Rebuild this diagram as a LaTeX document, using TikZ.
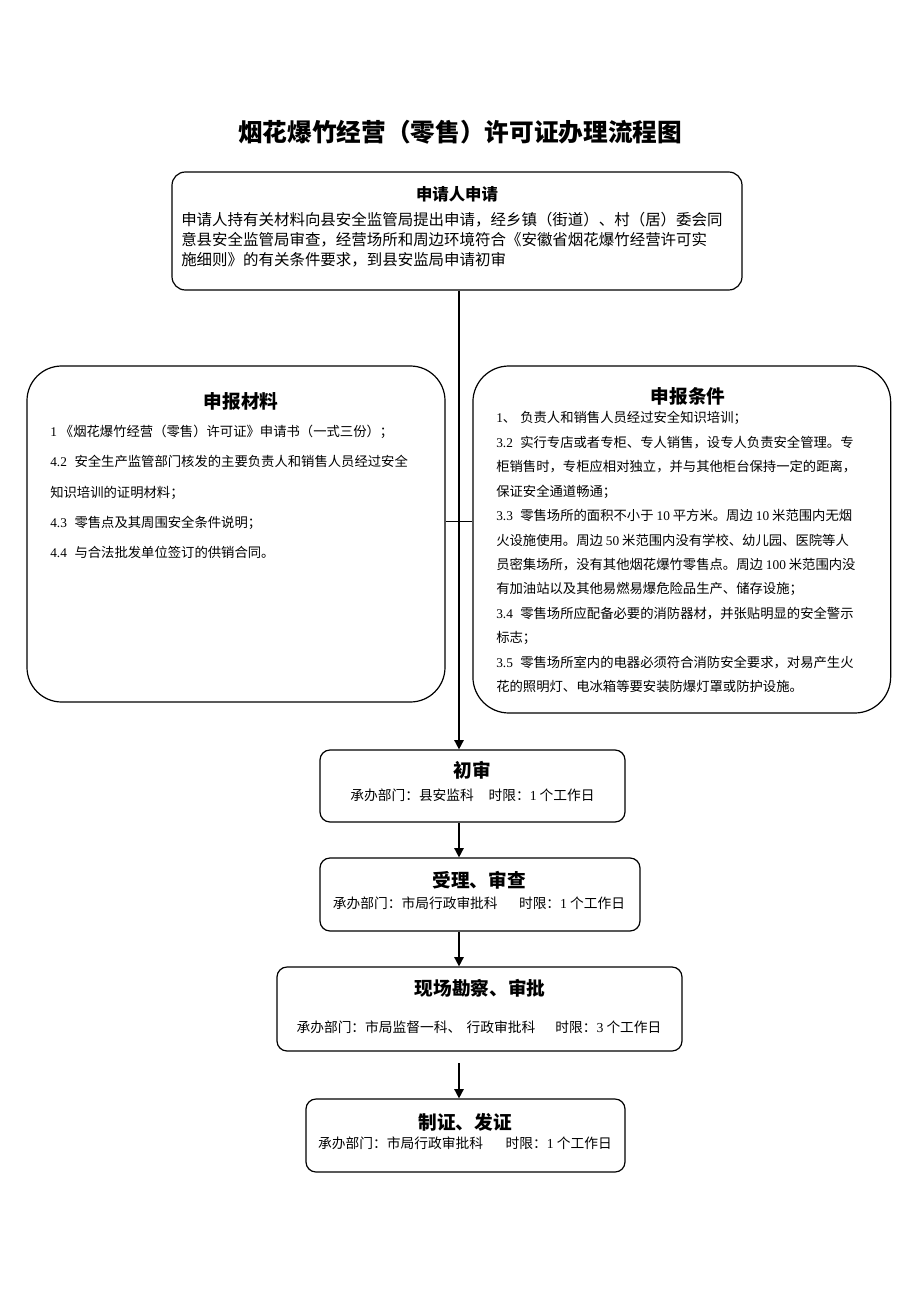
\documentclass[tikz,border=0pt]{standalone}
\usepackage{fontspec}
\setmainfont{Noto Sans CJK SC}
\newfontfamily\lat{Liberation Serif}
\newcommand\dg[1]{{\lat #1}}
\usetikzlibrary{arrows.meta}
\begin{document}
\begin{tikzpicture}[x=0.75pt,y=-0.75pt,
  box/.style={draw, line width=0.9pt, inner sep=0pt},
  conn/.style={line width=1.2pt},
  arr/.style={conn, -{Triangle[length=7pt,width=7pt]}},
  hd/.style={font=\fontsize{14}{16}\selectfont\bfseries, inner sep=0pt},
  subt/.style={font=\fontsize{10.3}{12}\selectfont, inner sep=0pt},
  ln/.style={anchor=base west, inner sep=0pt},
  lnA/.style={ln, font=\fontsize{11.6}{14}\selectfont},
  lnB/.style={ln, font=\fontsize{10}{12}\selectfont}]
\useasboundingbox (0,0) rectangle (920,1302);
\fill[white] (0,0) rectangle (920,1302);

% title
\node[inner sep=0pt, font=\fontsize{18.5}{20}\selectfont\bfseries] (title) at (460,132) {烟花爆竹经营（零售）许可证办理流程图};

% top box
\node[box, rounded corners=10pt, minimum width=427.5pt, minimum height=88.5pt] (top) at (457,231) {};
\node[hd, font=\fontsize{12.3}{14}\selectfont\bfseries] (toph) at (457,194) {申请人申请};
\foreach \t [count=\i] in {
 {申请人持有关材料向县安全监管局提出申请，经乡镇（街道）、村（居）委会同},
 {意县安全监管局审查，经营场所和周边环境符合《安徽省烟花爆竹经营许可实},
 {施细则》的有关条件要求，到县安监局申请初审}}
 \node[lnA] (t\i) at (181, {225+20.3*(\i-1)}) {\t};

% left box
\node[box, rounded corners=26pt, minimum width=313.5pt, minimum height=252pt] (left) at (236,534) {};
\node[hd] (lefth) at (241,401.5) {申报材料};
\foreach \t [count=\i] in {
 {\dg{1} 《烟花爆竹经营（零售）许可证》申请书（一式三份）；},
 {\dg{4.2}\hspace{5.7pt}安全生产监管部门核发的主要负责人和销售人员经过安全},
 {知识培训的证明材料；},
 {\dg{4.3}\hspace{5.7pt}零售点及其周围安全条件说明；},
 {\dg{4.4}\hspace{5.7pt}与合法批发单位签订的供销合同。}}
 \node[lnB] (l\i) at (50, {436.6+30.3*(\i-1)}) {\t};

% right box
\node[box, rounded corners=27pt, minimum width=313.3pt, minimum height=260.25pt] (right) at (681.8,539.5) {};
\node[hd] (righth) at (688,396.5) {申报条件};
\foreach \t [count=\i] in {
 {\dg{1}、\hspace{3pt}负责人和销售人员经过安全知识培训；},
 {\dg{3.2}\hspace{5.5pt}实行专店或者专柜、专人销售，设专人负责安全管理。专},
 {柜销售时，专柜应相对独立，并与其他柜台保持一定的距离，},
 {保证安全通道畅通；},
 {\dg{3.3}\hspace{5.5pt}零售场所的面积不小于 \dg{10} 平方米。周边 \dg{10} 米范围内无烟},
 {火设施使用。周边 \dg{50} 米范围内没有学校、幼儿园、医院等人},
 {员密集场所，没有其他烟花爆竹零售点。周边 \dg{100} 米范围内没},
 {有加油站以及其他易燃易爆危险品生产、储存设施；},
 {\dg{3.4}\hspace{5.5pt}零售场所应配备必要的消防器材，并张贴明显的安全警示},
 {标志；},
 {\dg{3.5}\hspace{5.5pt}零售场所室内的电器必须符合消防安全要求，对易产生火},
 {花的照明灯、电冰箱等要安装防爆灯罩或防护设施。}}
 \node[lnB] (r\i) at (496, {422.9+24.43*(\i-1)}) {\t};

% step boxes
\node[box, rounded corners=7.5pt, minimum width=228.75pt, minimum height=54pt] (chu) at (472.5,786) {};
\node[hd] (chuh) at (472.5,770) {初审};
\node[subt] (chus) at (472.5,795.5) {承办部门：县安监科\hspace{11pt}时限：\dg{1} 个工作日};

\node[box, rounded corners=7.5pt, minimum width=240pt, minimum height=54.75pt] (shou) at (480,894.5) {};
\node[hd] (shouh) at (479,880) {受理、审查};
\node[subt] (shous) at (479,903.5) {承办部门：市局行政审批科\hspace{16pt}时限：\dg{1} 个工作日};

\node[box, rounded corners=7.5pt, minimum width=303.75pt, minimum height=63pt] (xian) at (479.5,1009) {};
\node[hd] (xianh) at (480,988.5) {现场勘察、审批};
\node[subt] (xians) at (479,1027.5) {承办部门：市局监督一科、\hspace{4pt}行政审批科\hspace{15pt}时限：\dg{3} 个工作日};

\node[box, rounded corners=7.5pt, minimum width=239.25pt, minimum height=54.75pt] (zhi) at (465.5,1135.5) {};
\node[hd] (zhih) at (465,1122) {制证、发证};
\node[subt] (zhis) at (465,1143.5) {承办部门：市局行政审批科\hspace{17pt}时限：\dg{1} 个工作日};

% connectors
\coordinate (spine) at (459,0);
\coordinate (cross) at (459,521.5);
\coordinate (gap) at (459,1063);
\draw[arr] (spine |- top.south) -- (spine |- chu.north);
\draw[conn] (left.east |- cross) -- (right.west |- cross);
\draw[arr] (spine |- chu.south) -- (spine |- shou.north);
\draw[arr] (spine |- shou.south) -- (spine |- xian.north);
\draw[arr] (gap) -- (gap |- zhi.north);
\end{tikzpicture}
\end{document}
